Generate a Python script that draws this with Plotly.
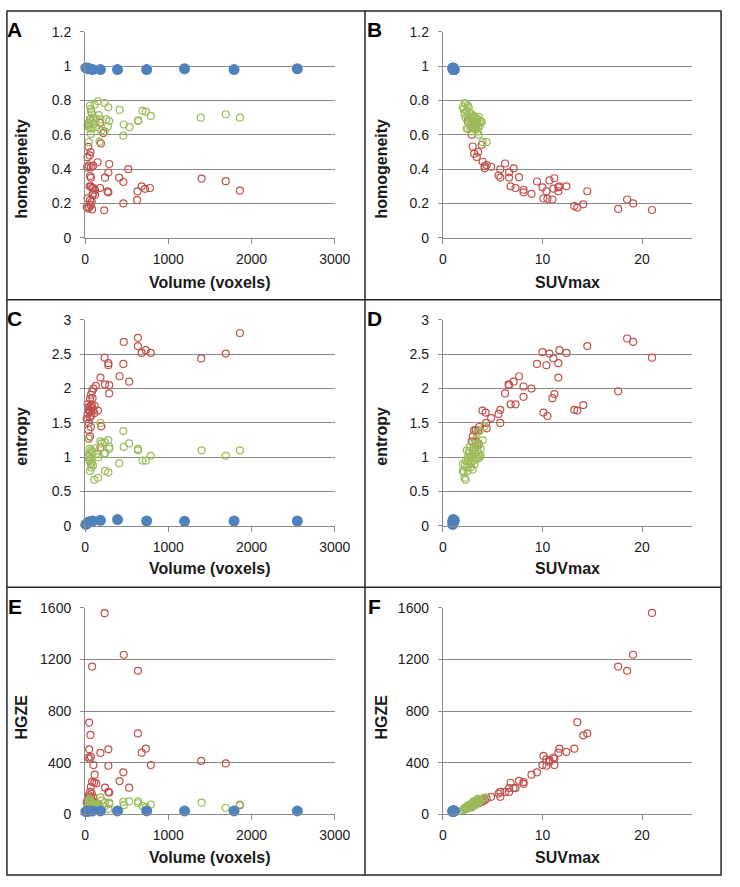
import plotly.graph_objects as go
from plotly.subplots import make_subplots

# ---- data (approximate) ----
BLUE_VOLUME = [10, 30, 50, 90, 185, 390, 740, 1195, 1790, 2550]
BLUE_SUV = [1.0, 1.05, 1.1, 1.1, 1.15, 1.05, 1.1, 1.0, 1.1, 1.05]
BLUE_HOMOG = [0.99, 0.99, 0.985, 0.98, 0.98, 0.98, 0.98, 0.985, 0.98, 0.985]
BLUE_ENTROPY = [0.02, 0.04, 0.06, 0.07, 0.08, 0.09, 0.07, 0.065, 0.07, 0.07]
BLUE_HGZE = [20, 22, 24, 25, 25, 25, 25, 25, 25, 25]

# (volume, homogeneity)
A_RED = [(60, 0.69), (180, 0.67), (220, 0.61), (190, 0.55), (40, 0.53), (65, 0.50), (55, 0.48),
         (30, 0.47), (45, 0.42), (25, 0.41), (70, 0.41), (95, 0.42), (150, 0.44), (60, 0.36),
         (70, 0.35), (290, 0.43), (280, 0.38), (240, 0.35), (520, 0.40), (410, 0.35), (460, 0.325),
         (70, 0.30), (85, 0.29), (100, 0.29), (120, 0.28), (180, 0.29), (270, 0.27), (280, 0.265),
         (630, 0.27), (680, 0.30), (720, 0.285), (780, 0.29), (1400, 0.345), (1690, 0.33),
         (1860, 0.275), (30, 0.23), (60, 0.22), (80, 0.21), (50, 0.18), (20, 0.18), (70, 0.19),
         (85, 0.165), (230, 0.16), (460, 0.20), (625, 0.22), (100, 0.26), (120, 0.25), (35, 0.17),
         (90, 0.25), (55, 0.30)]
A_GREEN = [(155, 0.795), (235, 0.785), (115, 0.775), (60, 0.77), (280, 0.76), (415, 0.745),
           (690, 0.74), (730, 0.735), (790, 0.71), (1690, 0.72), (1390, 0.70), (1860, 0.70),
           (75, 0.735), (85, 0.72), (165, 0.715), (255, 0.69), (290, 0.68), (635, 0.68),
           (640, 0.685), (465, 0.66), (535, 0.645), (460, 0.595), (40, 0.67), (30, 0.655),
           (45, 0.645), (60, 0.69), (70, 0.605), (45, 0.557), (175, 0.56), (195, 0.625),
           (275, 0.65), (130, 0.695), (185, 0.69), (135, 0.645), (235, 0.62), (95, 0.70),
           (70, 0.75), (50, 0.66), (80, 0.68), (100, 0.66), (65, 0.635), (90, 0.64)]

# (SUVmax, homogeneity)
B_RED = [(21.0, 0.162), (19.1, 0.20), (18.5, 0.223), (17.6, 0.168), (14.5, 0.271), (14.1, 0.195),
         (13.5, 0.176), (13.2, 0.185), (12.4, 0.30), (11.6, 0.271), (11.6, 0.294), (11.7, 0.30),
         (11.2, 0.347), (11.1, 0.286), (10.7, 0.334), (11.0, 0.223), (10.4, 0.271), (10.5, 0.227),
         (10.1, 0.229), (10.0, 0.294), (9.45, 0.328), (8.9, 0.256), (8.1, 0.28), (8.1, 0.265),
         (7.65, 0.353), (7.3, 0.29), (6.8, 0.30), (6.25, 0.433), (7.1, 0.405), (6.65, 0.382),
         (6.65, 0.351), (5.77, 0.399), (5.77, 0.351), (5.6, 0.363), (4.85, 0.414), (4.4, 0.424),
         (4.2, 0.405), (4.2, 0.418), (4.0, 0.443), (3.9, 0.542), (3.55, 0.50), (3.4, 0.471),
         (3.15, 0.49), (3.0, 0.532), (2.9, 0.60), (2.5, 0.68), (3.3, 0.64), (2.8, 0.66)]
B_GREEN = [(2.2, 0.785), (2.3, 0.78), (2.5, 0.77), (2.0, 0.765), (2.1, 0.75), (2.6, 0.76),
           (2.4, 0.74), (2.2, 0.73), (2.7, 0.73), (2.9, 0.72), (3.1, 0.71), (2.3, 0.70),
           (2.6, 0.70), (2.8, 0.69), (3.3, 0.70), (3.6, 0.705), (3.8, 0.68), (3.5, 0.69),
           (3.0, 0.68), (3.2, 0.67), (3.4, 0.66), (3.7, 0.65), (2.5, 0.64), (2.7, 0.65),
           (3.0, 0.64), (3.3, 0.63), (3.5, 0.62), (3.6, 0.60), (2.9, 0.62), (3.1, 0.655),
           (2.4, 0.635), (3.4, 0.675), (3.7, 0.67), (2.8, 0.66), (3.2, 0.645), (4.0, 0.557),
           (4.4, 0.557), (2.6, 0.675), (3.0, 0.705), (3.5, 0.645), (2.2, 0.72), (3.9, 0.675)]

# (volume, entropy)
C_RED = [(1860, 2.81), (1690, 2.51), (1395, 2.44), (790, 2.52), (730, 2.56), (680, 2.52),
         (635, 2.74), (635, 2.62), (465, 2.68), (460, 2.36), (530, 2.10), (415, 2.18),
         (280, 2.37), (280, 2.34), (235, 2.45), (290, 2.05), (240, 2.06), (290, 1.93),
         (185, 2.16), (195, 1.45), (185, 1.14), (155, 1.68), (130, 2.04), (100, 2.00), (85, 1.96),
         (70, 1.91), (60, 1.85), (80, 1.77), (40, 1.73), (50, 1.68), (30, 1.63), (60, 1.58),
         (20, 1.56), (45, 1.50), (70, 1.44), (40, 1.40), (60, 1.30), (45, 1.27), (95, 1.68),
         (115, 1.75), (85, 1.72), (30, 1.77), (110, 1.64), (55, 1.66), (75, 1.61), (35, 1.70),
         (65, 1.74), (90, 1.86)]
C_GREEN = [(1860, 1.10), (1690, 1.02), (1400, 1.10), (790, 1.02), (730, 0.95), (690, 0.95),
           (635, 1.10), (635, 1.12), (460, 1.38), (465, 1.15), (530, 1.20), (410, 0.91),
           (290, 1.12), (280, 1.25), (290, 1.15), (230, 1.05), (240, 1.06), (235, 1.22),
           (200, 1.20), (185, 1.50), (185, 1.23), (160, 1.00), (155, 0.70), (110, 0.67),
           (240, 0.80), (280, 0.78), (60, 0.80), (75, 0.85), (70, 0.90), (50, 0.95), (40, 1.00),
           (60, 1.05), (75, 1.10), (45, 1.27), (55, 1.12), (65, 0.98), (80, 0.92), (35, 1.03),
           (90, 1.08), (95, 0.88), (120, 1.13), (135, 1.05)]

# (SUVmax, entropy)
D_RED = [(21.0, 2.45), (19.1, 2.68), (18.5, 2.73), (17.6, 1.96), (14.5, 2.62), (14.1, 1.76),
         (13.5, 1.68), (13.2, 1.69), (12.4, 2.52), (11.7, 2.56), (11.6, 2.37), (11.6, 2.16),
         (11.2, 1.92), (11.1, 2.44), (11.0, 1.86), (10.7, 2.51), (10.4, 2.34), (10.5, 1.60),
         (10.1, 1.65), (10.0, 2.53), (9.45, 2.36), (8.9, 2.0), (8.1, 2.03), (8.1, 1.88),
         (7.65, 2.18), (7.3, 1.77), (7.1, 2.10), (6.8, 1.77), (6.65, 2.05), (6.6, 2.06),
         (6.25, 1.93), (5.77, 1.50), (5.77, 1.69), (5.6, 1.63), (4.85, 1.57), (4.4, 1.42),
         (4.35, 1.50), (4.3, 1.65), (3.98, 1.68), (3.65, 1.44), (3.55, 1.39), (3.3, 1.39),
         (3.15, 1.39), (3.0, 1.30), (2.9, 1.23), (3.3, 1.22), (3.6, 1.18)]
D_GREEN = [(2.0, 0.80), (2.1, 0.78), (2.2, 0.70), (2.3, 0.67), (2.0, 0.90), (2.4, 0.85),
           (2.5, 0.80), (2.3, 0.95), (2.5, 1.00), (2.6, 0.95), (2.4, 1.10), (2.7, 1.05),
           (2.8, 0.90), (2.8, 0.85), (2.9, 1.00), (3.0, 1.10), (2.7, 1.15), (3.1, 0.95),
           (3.2, 1.05), (3.0, 1.20), (3.3, 1.15), (3.4, 1.00), (3.5, 1.10), (3.6, 1.05),
           (3.7, 1.00), (3.8, 1.12), (3.6, 1.20), (3.3, 1.25), (3.4, 1.35), (3.7, 1.38),
           (4.0, 1.25), (4.2, 1.45), (2.6, 1.08), (3.1, 1.12), (2.9, 0.93), (3.5, 0.98),
           (2.2, 0.88), (3.2, 0.90), (3.8, 1.02), (3.0, 0.82), (3.45, 1.18), (2.75, 1.00)]

# (volume, HGZE)
E_RED = [(235, 1560), (465, 1237), (85, 1145), (635, 1112), (50, 711), (635, 627), (65, 615),
         (50, 503), (280, 503), (730, 508), (680, 477), (185, 475), (40, 440), (70, 445),
         (55, 430), (100, 381), (280, 376), (790, 381), (1395, 414), (1690, 394), (460, 325),
         (115, 307), (415, 257), (530, 206), (240, 206), (290, 168), (280, 173), (85, 250),
         (110, 245), (70, 211), (135, 239), (60, 173), (45, 147), (75, 122), (95, 97), (55, 130),
         (80, 160), (30, 110), (65, 85), (100, 130), (125, 90), (150, 80), (40, 70), (1860, 70),
         (20, 90)]
E_GREEN = [(1860, 75), (1690, 50), (1400, 90), (790, 75), (730, 55), (690, 65), (635, 85),
           (635, 100), (530, 100), (460, 95), (465, 70), (410, 30), (290, 90), (280, 40),
           (290, 80), (240, 90), (230, 60), (185, 130), (200, 105), (160, 70), (155, 40),
           (110, 25), (60, 120), (70, 100), (50, 90), (40, 75), (60, 60), (75, 80), (45, 110),
           (55, 65), (80, 50), (35, 95), (90, 85), (95, 70), (120, 60), (135, 80), (100, 45),
           (65, 40)]

# (SUVmax, HGZE)
F_RED = [(21.0, 1562), (19.1, 1237), (17.6, 1145), (18.5, 1112), (13.5, 714), (14.5, 627),
         (14.1, 612), (13.2, 508), (11.7, 508), (11.6, 477), (12.4, 483), (10.1, 452),
         (11.1, 440), (10.4, 425), (10.7, 420), (11.2, 430), (10.0, 381), (10.4, 376),
         (11.2, 381), (10.7, 406), (9.45, 325), (8.9, 307), (7.65, 259), (8.1, 249), (8.1, 236),
         (6.8, 244), (7.3, 203), (7.1, 203), (6.65, 203), (6.65, 173), (6.25, 173), (5.77, 173),
         (5.77, 135), (5.6, 160), (4.85, 135), (4.4, 122), (4.2, 109), (4.0, 102), (3.65, 95),
         (3.3, 84), (3.15, 71), (3.0, 64), (2.9, 53), (2.5, 60), (3.6, 85), (3.9, 95)]
F_GREEN = [(2.0, 30), (2.1, 40), (2.2, 35), (2.3, 45), (2.4, 50), (2.5, 55), (2.6, 50), (2.7, 60),
           (2.8, 65), (2.9, 70), (3.0, 75), (3.1, 80), (3.2, 85), (3.3, 90), (3.4, 95), (3.5, 100),
           (3.6, 105), (3.7, 110), (3.8, 112), (4.0, 120), (4.2, 130), (2.5, 65), (2.8, 55),
           (3.0, 90), (3.2, 70), (3.4, 110), (3.6, 90), (2.6, 70), (3.1, 100), (3.5, 120),
           (2.4, 40), (2.9, 85), (3.3, 75), (3.7, 95), (2.2, 50), (3.0, 60)]

RED = "#c0504d"
GREEN = "#9bbb59"
BLUE = "#4f81bd"
GRID = "#8a8a8a"
TEXT = "#1a1a1a"
FONT = "Liberation Sans, Arial, sans-serif"

W, H = 740, 887


def px_x(v):
    return v / W


def px_y(v):
    return 1 - v / H


panels = [
    # row, col, letter, red, green, blue x, blue y, x title, y title, x range, x dtick, y range, y dtick
    (1, 1, "A", A_RED, A_GREEN, BLUE_VOLUME, BLUE_HOMOG, "Volume (voxels)", "homogeneity", [0, 3000], 1000, [0, 1.2], 0.2),
    (1, 2, "B", B_RED, B_GREEN, BLUE_SUV, BLUE_HOMOG, "SUVmax", "homogeneity", [0, 25], 10, [0, 1.2], 0.2),
    (2, 1, "C", C_RED, C_GREEN, BLUE_VOLUME, BLUE_ENTROPY, "Volume (voxels)", "entropy", [0, 3000], 1000, [0, 3], 0.5),
    (2, 2, "D", D_RED, D_GREEN, BLUE_SUV, BLUE_ENTROPY, "SUVmax", "entropy", [0, 25], 10, [0, 3], 0.5),
    (3, 1, "E", E_RED, E_GREEN, BLUE_VOLUME, BLUE_HGZE, "Volume (voxels)", "HGZE", [0, 3000], 1000, [0, 1600], 400),
    (3, 2, "F", F_RED, F_GREEN, BLUE_SUV, BLUE_HGZE, "SUVmax", "HGZE", [0, 25], 10, [0, 1600], 400),
]

# plot areas and label positions, in pixels of the page
col_x = {1: (83.3, 340), 2: (451, 707)}
row_y = {1: (24.3, 234), 2: (317.7, 527.3), 3: (611, 821)}
letter_x = {1: 11, 2: 381}
ytitle_x = {1: 18, 2: 388}
ytitle_y = {1: 164, 2: 436, 3: 722}
xtitle_y = {1: 280, 2: 571, 3: 865}

fig = make_subplots(rows=3, cols=2)

for row, col, letter, red, green, bx, by, xt, yt, xr, xd, yr, yd in panels:
    for pts, color in ((red, RED), (green, GREEN)):
        fig.add_trace(go.Scatter(
            x=[p[0] for p in pts], y=[p[1] for p in pts], mode="markers",
            marker=dict(symbol="circle-open", size=7, color=color, line=dict(width=1.2, color=color)),
            showlegend=False, cliponaxis=False), row=row, col=col)
    fig.add_trace(go.Scatter(
        x=bx, y=by, mode="markers", marker=dict(size=11, color=BLUE),
        showlegend=False, cliponaxis=False), row=row, col=col)

    x0, x1 = col_x[col]
    y0, y1 = row_y[row]
    fig.update_xaxes(domain=[px_x(x0), px_x(x1)], range=xr, dtick=xd, tick0=0, tickformat="d",
                     showgrid=False, zeroline=False, showline=True, linecolor=GRID, linewidth=1,
                     ticks="outside", ticklen=5, tickcolor=GRID, ticklabelstandoff=3,
                     tickfont=dict(size=14, color=TEXT, family=FONT),
                     row=row, col=col)
    fig.update_yaxes(domain=[px_y(y1), px_y(y0)], range=yr, dtick=yd, tick0=0,
                     showgrid=True, gridcolor=GRID, gridwidth=1, zeroline=False,
                     showline=True, linecolor=GRID, linewidth=1,
                     ticks="outside", ticklen=4, tickcolor=GRID, ticklabelstandoff=6,
                     tickfont=dict(size=14, color=TEXT, family=FONT),
                     row=row, col=col)

    fig.add_annotation(x=px_x(letter_x[col]), y=px_y(y0 - 2), xref="paper", yref="paper",
                       text="<b>%s</b>" % letter, showarrow=False, xanchor="center", yanchor="middle",
                       font=dict(size=21, color="black", family=FONT))
    fig.add_annotation(x=px_x((x0 + x1) / 2), y=px_y(xtitle_y[row]), xref="paper", yref="paper",
                       text="<b>%s</b>" % xt, showarrow=False, xanchor="center", yanchor="middle",
                       font=dict(size=16, color=TEXT, family=FONT))
    fig.add_annotation(x=px_x(ytitle_x[col]), y=px_y(ytitle_y[row]), xref="paper", yref="paper",
                       text="<b>%s</b>" % yt, showarrow=False, xanchor="center", yanchor="middle",
                       textangle=-90, font=dict(size=16, color=TEXT, family=FONT))

# panel frames
line = dict(color="#262626", width=1.5)
fig.add_shape(type="rect", xref="paper", yref="paper", x0=px_x(3), x1=px_x(737),
              y0=px_y(883), y1=px_y(3), line=line)
fig.add_shape(type="line", xref="paper", yref="paper", x0=px_x(371), x1=px_x(371),
              y0=px_y(883), y1=px_y(3), line=line)
for yy in (297, 590):
    fig.add_shape(type="line", xref="paper", yref="paper", x0=px_x(3), x1=px_x(737),
                  y0=px_y(yy), y1=px_y(yy), line=line)

fig.update_layout(width=W, height=H, margin=dict(l=0, r=0, t=0, b=0),
                  plot_bgcolor="white", paper_bgcolor="white",
                  font=dict(family=FONT, color=TEXT))

# pin the figure to the window's top-left corner so the page is exactly 740x887
pin = ("var d=document.getElementById('{plot_id}');"
       "d.style.position='fixed';d.style.left='0px';d.style.top='0px';"
       "document.body.style.margin='0';document.body.style.overflow='hidden';")
fig.write_html("out.html", config={"displayModeBar": False}, post_script=pin)
